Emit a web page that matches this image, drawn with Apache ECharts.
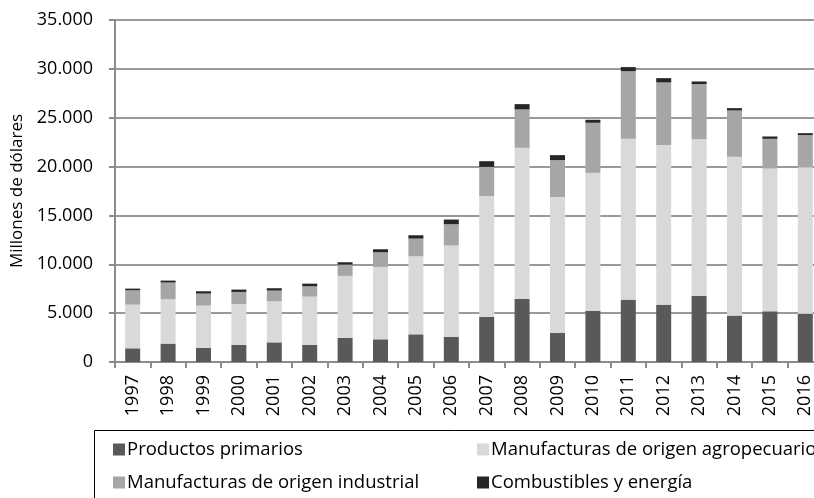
<!DOCTYPE html>
<head>
  <meta charset="utf-8">
  <script src="https://cdn.jsdelivr.net/npm/echarts@6/dist/echarts.min.js"></script>
  <style>
    html,body{margin:0;padding:0;background:#fff;}
    #chart{width:814px;height:498px;}
  </style>
</head>
<body>
  <div id="chart"></div>
  <script>
    // years on the x axis
    var years = ['1997','1998','1999','2000','2001','2002','2003','2004','2005','2006',
                 '2007','2008','2009','2010','2011','2012','2013','2014','2015','2016'];
    // millones de dolares
    var primarios = [1400,1880,1430,1740,2010,1740,2460,2320,2830,2560,4610,6450,2970,5220,6380,5870,6760,4750,5190,4950];
    var agro      = [4470,4540,4340,4200,4200,4950,6350,7410,7990,9360,12360,15470,13900,14140,16460,16320,16050,16250,14610,14990];
    var industria = [1470,1710,1230,1230,1100,1060,1160,1500,1810,2180,3000,3930,3790,5120,6930,6420,5630,4740,3040,3280];
    var combust   = [170,200,240,240,240,270,240,310,340,480,580,540,510,310,410,440,270,240,240,200];
    var yTicks = [0,5000,10000,15000,20000,25000,30000,35000];

    var names = ['Productos primarios','Manufacturas de origen agropecuario',
                 'Manufacturas de origen industrial','Combustibles y energía'];
    var colors = ['#595959','#d9d9d9','#a6a6a6','#262626'];
    var values = [primarios, agro, industria, combust];

    var font = 'Open Sans';
    var axisGrey = '#8c8c8c';

    function fmt(v){
      return String(v).replace(/\B(?=(\d{3})+(?!\d))/g,'.');
    }

    var series = names.map(function(n,i){
      return {
        name:n, type:'bar', stack:'total', barWidth:15,
        data:values[i], itemStyle:{color:colors[i]},
        emphasis:{disabled:true}
      };
    });

    var legendCommon = {
      orient:'vertical', top:435, itemWidth:12, itemHeight:12, itemGap:14,
      icon:'rect', selectedMode:false,
      textStyle:{fontFamily:font, fontSize:18.5, color:'#000', padding:[0,0,0,-3]}
    };

    var chart = echarts.init(document.getElementById('chart'));
    chart.setOption({
      animation:false,
      textStyle:{fontFamily:font},
      grid:{left:115, top:20, width:708, height:342, outerBoundsMode:'none'},
      graphic:[{
        type:'rect', shape:{x:94.5, y:430.5, width:740, height:100},
        style:{fill:'none', stroke:'#000', lineWidth:1}
      }],
      legend:[
        Object.assign({left:108, data:[names[0], names[2]]}, legendCommon),
        Object.assign({left:472, data:[names[1], names[3]]}, legendCommon)
      ],
      xAxis:{
        type:'category', data:years,
        axisLine:{lineStyle:{color:axisGrey, width:2}},
        axisTick:{show:true, length:6, lineStyle:{color:axisGrey, width:2}},
        axisLabel:{rotate:90, fontSize:18, color:'#000', margin:13, fontFamily:font}
      },
      yAxis:{
        type:'value', min:yTicks[0], max:yTicks[yTicks.length-1], interval:5000,
        name:'Millones de dólares', nameLocation:'middle', nameGap:87,
        nameTextStyle:{fontSize:17, color:'#000', fontFamily:font},
        axisLine:{show:true, lineStyle:{color:axisGrey, width:2}},
        axisTick:{show:true, length:6, lineStyle:{color:axisGrey, width:2}},
        axisLabel:{fontSize:18, color:'#000', margin:22, fontFamily:font, formatter:fmt},
        splitLine:{lineStyle:{color:'#999', width:2}}
      },
      series:series
    });
  </script>
</body>
